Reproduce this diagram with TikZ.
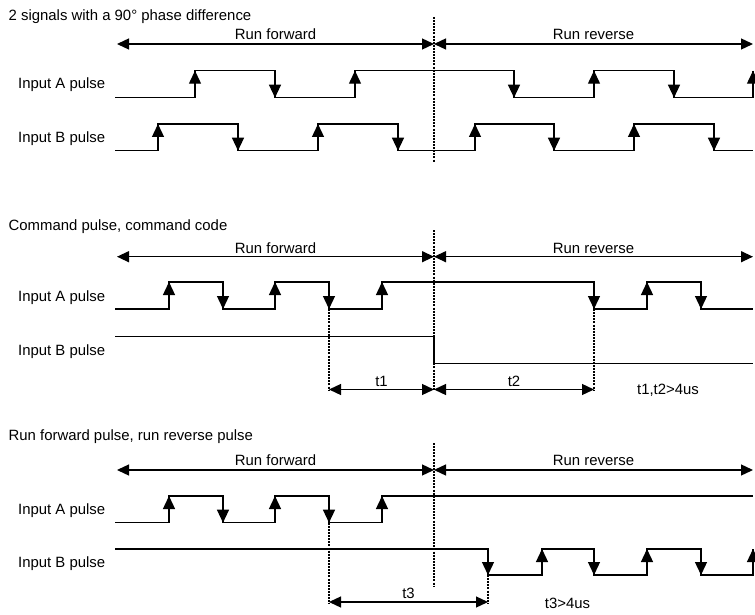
\documentclass[tikz,border=0pt]{standalone}
\usepackage{fontspec}
\setmainfont{Liberation Sans}
\usetikzlibrary{arrows.meta}

\begin{document}
\begin{tikzpicture}
  [x=1pt,y=-1pt,
   every node/.style={inner sep=0pt,font=\fontsize{14.9}{17}\selectfont},
   wave/.style={line width=1.3pt},
   flank/.style={wave,-{Triangle[length=13pt,width=12pt]}},
   span/.style={wave,{Triangle[length=12pt,width=11pt]}-{Triangle[length=12pt,width=11pt]}},
   dotline/.style={line width=2.2pt,dash pattern=on 2pt off 1.1pt},
   lbl/.style={anchor=base west},
   lab/.style={anchor=base}]
  \useasboundingbox (0,0) rectangle (755,615);

  % 2 signals with a 90 degree phase difference
  \node[lbl] (h1) at (8.5,20.5) {2 signals with a 90° phase difference};
  \coordinate (a1) at (117,44);
  \coordinate (m1) at (434,44);
  \coordinate (e1) at (753,44);
  \draw[span] (a1) -- (m1);
  \draw[span] (m1) -- (e1);
  \node[lab] (fw1) at (275.5,40) {Run forward};
  \node[lab] (rv1) at (593.5,40) {Run reverse};
  \node[lbl] (ia1) at (18,89) {Input A pulse};
  \node[lbl] (ib1) at (18,142.5) {Input B pulse};

  % Input A
  \draw[wave] (115,97.7) -| (195,70.7) -| (275,97.7) -| (355,70.7) -| (514,97.7)
    -| (594,70.7) -| (674,97.7) -| (753,70.7);
  \foreach \x in {195,355,594,753} \draw[flank] (\x,97.7) -- (\x,70.7);
  \foreach \x in {275,514,674} \draw[flank] (\x,70.7) -- (\x,97.7);

  % Input B
  \draw[wave] (115,150.7) -| (158,124) -| (238,150.7) -| (318,124) -| (398,150.7)
    -| (475,124) -| (554,150.7) -| (634,124) -| (714,150.7) -- (753,150.7);
  \foreach \x in {158,318,475,634} \draw[flank] (\x,150.7) -- (\x,124);
  \foreach \x in {238,398,554,714} \draw[flank] (\x,124) -- (\x,150.7);

  \coordinate (top1) at (434,17);
  \coordinate (bot1) at (434,162);
  \draw[dotline] (top1) -- (bot1);

  % Command pulse, command code
  \node[lbl] (h2) at (8.5,230.5) {Command pulse, command code};
  \coordinate (a2) at (117,256.7);
  \coordinate (m2) at (434,256.7);
  \coordinate (e2) at (753,256.7);
  \draw[span] (a2) -- (m2);
  \draw[span] (m2) -- (e2);
  \node[lab] (fw2) at (275.5,253) {Run forward};
  \node[lab] (rv2) at (593.5,253) {Run reverse};
  \node[lbl] (ia2) at (18,301.5) {Input A pulse};
  \node[lbl] (ib2) at (18,355) {Input B pulse};

  \draw[wave] (115,309) -| (169,282) -| (223,309) -| (275,282) -| (329,309)
    -| (382,282) -| (594,309) -| (647,282) -| (701,309) -- (753,309);
  \foreach \x in {169,275,382,647} \draw[flank] (\x,309) -- (\x,282);
  \foreach \x in {223,329,594,701} \draw[flank] (\x,282) -- (\x,309);
  \draw[wave] (115,336.7) -- (434,336.7) -- (434,363.3) -- (753,363.3);

  \coordinate (top2) at (434,230);
  \coordinate (bot2) at (434,391);
  \coordinate (p2) at (329,309);
  \coordinate (q2) at (329,391);
  \coordinate (r2) at (594,309);
  \coordinate (s2) at (594,391);
  \draw[dotline] (top2) -- (bot2);
  \draw[dotline] (p2) -- (q2);
  \draw[dotline] (r2) -- (s2);

  \coordinate (ta) at (329,389.5);
  \coordinate (tb) at (434,389.5);
  \coordinate (tc) at (594,389.5);
  \draw[span] (ta) -- (tb);
  \draw[span] (tb) -- (tc);
  \node[lab] (t1) at (381.5,386.7) {t1};
  \node[lab] (t2) at (514,386.7) {t2};
  \node[lab] (c2) at (668,394) {t1,t2>4us};

  % Run forward pulse, run reverse pulse
  \node[lbl] (h3) at (8.5,440.5) {Run forward pulse, run reverse pulse};
  \coordinate (a3) at (117,470);
  \coordinate (m3) at (434,470);
  \coordinate (e3) at (753,470);
  \draw[span] (a3) -- (m3);
  \draw[span] (m3) -- (e3);
  \node[lab] (fw3) at (275.5,465.5) {Run forward};
  \node[lab] (rv3) at (593.5,465.5) {Run reverse};
  \node[lbl] (ia3) at (18,514) {Input A pulse};
  \node[lbl] (ib3) at (18,567.5) {Input B pulse};

  \draw[wave] (115,522.7) -| (169,496) -| (223,522.7) -| (275,496) -| (329,522.7)
    -| (382,496) -- (753,496);
  \foreach \x in {169,275,382} \draw[flank] (\x,522.7) -- (\x,496);
  \foreach \x in {223,329} \draw[flank] (\x,496) -- (\x,522.7);
  \draw[wave] (115,549) -| (488,575) -| (542,549) -| (594,575) -| (647,549)
    -| (701,575) -| (753,549);
  \foreach \x in {542,647,753} \draw[flank] (\x,575) -- (\x,549);
  \foreach \x in {488,594,701} \draw[flank] (\x,549) -- (\x,575);

  \coordinate (top3) at (434,443);
  \coordinate (bot3) at (434,587);
  \coordinate (p3) at (329,522.7);
  \coordinate (q3) at (329,604);
  \coordinate (r3) at (488,575);
  \coordinate (s3) at (488,604);
  \draw[dotline] (top3) -- (bot3);
  \draw[dotline] (p3) -- (q3);
  \draw[dotline] (r3) -- (s3);

  \coordinate (ua) at (329,602);
  \coordinate (ub) at (488,602);
  \draw[span] (ua) -- (ub);
  \node[lab] (t3) at (408.5,598) {t3};
  \node[lab] (c3) at (567.5,608) {t3>4us};
\end{tikzpicture}
\end{document}
